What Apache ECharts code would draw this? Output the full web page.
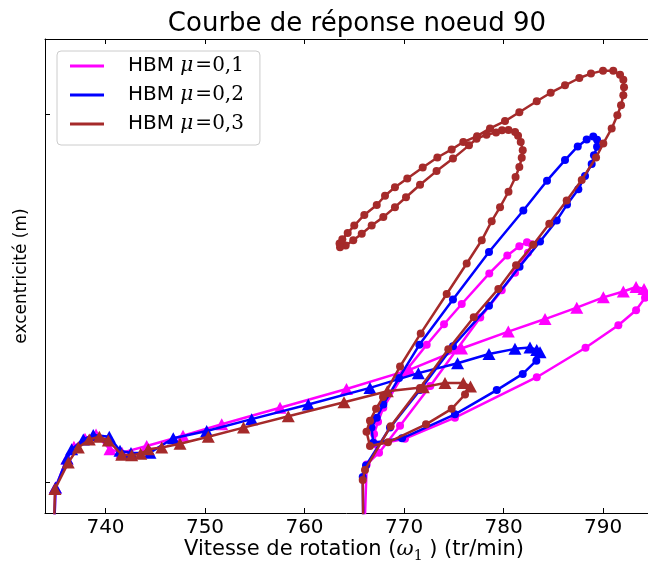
<!DOCTYPE html>
<html><head><meta charset="utf-8">
<script src="https://cdn.jsdelivr.net/npm/echarts@6/dist/echarts.min.js"></script>
<style>html,body{margin:0;padding:0;background:#fff}#c{width:648px;height:568px}</style>
</head><body><div id="c"></div>
<script>
// ---- data (x: rotation speed in tr/min, y: eccentricity, arbitrary units; y ticks at 0 and 1) ----
const seriesNames = ['HBM μ=0,1', 'HBM μ=0,2', 'HBM μ=0,3'];
const seriesColors = ['#ff00ff', '#0000ff', '#a52a2a'];
const xTicks = [740, 750, 760, 770, 780, 790];
const yTicks = [0, 1];

// μ = 0,1 : triangle branch then circle branch
const mu1Tri = [[734.77,-0.203],[734.97,-0.014],[736.13,0.065],[736.83,0.097],[737.94,0.119],[739.05,0.130],[740.45,0.090],[741.66,0.081],[744.14,0.099],[747.79,0.127],[751.68,0.158],[757.54,0.203],[764.22,0.254],[770.53,0.306],[775.78,0.364],[780.48,0.410],[784.17,0.444],[787.36,0.475],[790.03,0.503],[792.04,0.519],[793.32,0.531],[794.12,0.526]];
const mu1Circ = [[794.22,0.502],[793.32,0.468],[791.54,0.427],[788.24,0.366],[783.34,0.286],[775.12,0.176],[770.10,0.119],[767.19,0.103],[766.99,0.132],[767.39,0.165],[767.92,0.203],[770.00,0.297],[772.28,0.374],[774.02,0.430],[775.80,0.485],[778.57,0.568],[780.38,0.617],[781.59,0.642],[782.36,0.653],[782.83,0.647],[782.46,0.624],[781.16,0.570],[779.82,0.522],[777.66,0.448],[775.25,0.359],[772.64,0.262],[769.60,0.154],[767.49,0.081],[766.25,0.049],[765.94,-0.203]];

// μ = 0,2
const mu2Tri = [[734.77,-0.203],[734.97,-0.014],[736.13,0.065],[736.60,0.090],[737.77,0.117],[738.77,0.129],[740.38,0.124],[741.46,0.086],[742.56,0.080],[744.47,0.081],[746.81,0.120],[750.17,0.140],[754.69,0.172],[760.38,0.212],[766.58,0.257],[771.44,0.297],[775.38,0.324],[778.54,0.349],[781.15,0.363],[782.66,0.367],[783.34,0.360],[783.67,0.354]];
const mu2Circ = [[783.30,0.331],[781.93,0.295],[779.32,0.251],[775.12,0.185],[769.80,0.120],[766.91,0.108],[766.73,0.149],[767.26,0.176],[767.92,0.212],[769.50,0.284],[771.54,0.374],[774.92,0.497],[778.54,0.626],[781.99,0.739],[784.37,0.820],[786.18,0.876],[787.46,0.913],[788.36,0.932],[789.02,0.940],[789.40,0.931],[789.40,0.912],[789.09,0.889],[788.86,0.865],[788.19,0.833],[787.52,0.797],[786.38,0.755],[785.35,0.712],[783.67,0.655],[781.61,0.586],[778.54,0.480],[774.92,0.370],[771.61,0.251],[768.59,0.149],[766.18,0.046],[765.85,0.015],[765.94,-0.203]];

// μ = 0,3
const mu3Tri = [[734.77,-0.203],[734.92,-0.018],[736.26,0.054],[737.27,0.095],[738.37,0.117],[739.38,0.124],[740.28,0.114],[741.63,0.075],[742.63,0.074],[743.54,0.078],[744.30,0.090],[745.65,0.095],[747.49,0.105],[750.33,0.124],[753.87,0.149],[758.37,0.180],[763.97,0.218],[768.32,0.248],[771.94,0.259],[774.12,0.270],[775.96,0.270],[776.68,0.261]];
const mu3Circ = [[776.13,0.239],[774.79,0.200],[772.21,0.158],[768.39,0.109],[766.58,0.099],[766.23,0.138],[766.58,0.168],[767.19,0.200],[767.89,0.232],[769.60,0.315],[771.68,0.405],[774.29,0.512],[776.30,0.595],[777.81,0.658],[778.81,0.710],[779.65,0.748],[780.50,0.790],[781.21,0.830],[781.59,0.857],[781.83,0.882],[781.93,0.903],[781.73,0.925],[781.46,0.942],[781.16,0.952],[780.50,0.958],[779.85,0.957],[779.25,0.951],[778.29,0.945],[777.29,0.934],[776.53,0.916],[774.92,0.880],[773.27,0.846],[771.61,0.809],[770.20,0.775],[769.09,0.748],[767.92,0.721],[766.75,0.698],[765.75,0.676],[764.90,0.658],[764.14,0.644],[763.57,0.639],[763.52,0.649],[763.80,0.661],[764.34,0.678],[765.00,0.698],[766.01,0.727],[767.26,0.754],[768.09,0.779],[769.09,0.802],[770.33,0.826],[771.88,0.856],[773.35,0.883],[774.79,0.905],[775.96,0.925],[777.34,0.941],[778.64,0.962],[780.15,0.982],[781.59,1.006],[783.34,1.036],[784.74,1.059],[786.18,1.079],[787.62,1.099],[788.79,1.111],[790.00,1.119],[791.03,1.119],[791.71,1.108],[792.04,1.094],[792.11,1.074],[792.04,1.052],[791.81,1.025],[791.44,0.998],[790.87,0.962],[790.03,0.921],[789.30,0.883],[787.86,0.822],[786.35,0.766],[784.60,0.703],[782.99,0.646],[781.26,0.590],[779.48,0.526],[777.01,0.449],[774.45,0.362],[771.61,0.257],[768.66,0.153],[766.08,0.034],[765.85,0.007],[765.94,-0.203]];

const triBranches = [mu1Tri, mu2Tri, mu3Tri];
const circBranches = [mu1Circ, mu2Circ, mu3Circ];

// ---- chart ----
const FONT = 'DejaVu Sans';
const chart = echarts.init(document.getElementById('c'), null, {renderer: 'canvas'});

const series = seriesNames.map((name, i) => ({
  name: name,
  type: 'line',
  xAxisIndex: 0,
  yAxisIndex: 0,
  z: 2 + i,
  clip: true,
  smooth: false,
  color: seriesColors[i],
  lineStyle: {color: seriesColors[i], width: 2.5},
  itemStyle: {color: seriesColors[i], borderWidth: 0},
  emphasis: {disabled: true},
  data: triBranches[i].map(p => ({value: p, symbol: 'triangle', symbolSize: [13, 12]}))
    .concat(circBranches[i].map(p => ({value: p, symbol: 'circle', symbolSize: 8})))
}));

const option = {
  animation: false,
  backgroundColor: '#ffffff',
  title: {
    text: 'Courbe de réponse noeud 90',
    left: 352,
    textAlign: 'center',
    top: 6,
    textStyle: {fontFamily: FONT, fontSize: 26, fontWeight: 'normal', color: '#000'}
  },
  legend: {
    data: seriesNames,
    orient: 'vertical',
    left: 57,
    top: 51,
    padding: [5, 16, 11, 13],
    itemGap: 9,
    itemWidth: 34,
    itemHeight: 3,
    icon: 'rect',
    borderColor: '#cccccc',
    borderWidth: 1,
    borderRadius: 4,
    backgroundColor: '#ffffff',
    formatter: function (name) {
      const val = name.split('=')[1];
      return '{g|}{t|HBM }{m|μ}{n|=' + val + '}';
    },
    textStyle: {
      rich: {
        g: {width: 19, height: 24},
        t: {fontFamily: FONT, fontSize: 20, color: '#000', lineHeight: 24},
        m: {fontFamily: 'DejaVu Serif', fontStyle: 'italic', fontSize: 20, color: '#000', lineHeight: 24, padding: [0, 2, 0, 0]},
        n: {fontFamily: 'DejaVu Serif', fontSize: 20, color: '#000', lineHeight: 24}
      }
    }
  },
  grid: {left: 45, right: 0, top: 39, bottom: 52, containLabel: false},
  xAxis: [{
    type: 'value',
    position: 'bottom',
    min: 733.92,
    max: 794.52,
    name: '{a|Vitesse de rotation (}{w|ω}{s|1}{a| ) (tr/min)}',
    nameLocation: 'middle',
    nameGap: 24,
    nameMoveOverlap: false,
    nameTextStyle: {
      padding: [0, 0, 0, 15],
      rich: {
        a: {fontFamily: FONT, fontSize: 21, color: '#000', lineHeight: 26},
        w: {fontFamily: 'DejaVu Serif', fontStyle: 'italic', fontSize: 21, color: '#000', lineHeight: 26},
        s: {fontFamily: 'DejaVu Serif', fontSize: 14, color: '#000', lineHeight: 26, verticalAlign: 'bottom', padding: [10, 0, 0, 0]}
      }
    },
    axisLine: {show: true, onZero: false, lineStyle: {color: '#000', width: 1}},
    axisTick: {show: true, inside: true, length: 5, customValues: xTicks, lineStyle: {color: '#000', width: 1}},
    axisLabel: {show: true, customValues: xTicks, margin: 5, fontFamily: FONT, fontSize: 20, color: '#000', formatter: v => String(v)},
    splitLine: {show: false}
  }, {
    type: 'value',
    position: 'top',
    min: 733.92,
    max: 794.52,
    axisLine: {show: true, onZero: false, lineStyle: {color: '#000', width: 1}},
    axisTick: {show: true, inside: true, length: 5, customValues: xTicks, lineStyle: {color: '#000', width: 1}},
    axisLabel: {show: false},
    splitLine: {show: false}
  }],
  yAxis: [{
    type: 'value',
    position: 'left',
    min: -0.083,
    max: 1.205,
    name: 'excentricité (m)',
    nameLocation: 'middle',
    nameGap: 15,
    nameMoveOverlap: false,
    nameTextStyle: {fontFamily: FONT, fontSize: 17, color: '#000'},
    axisLine: {show: true, onZero: false, lineStyle: {color: '#000', width: 1}},
    axisTick: {show: true, inside: true, length: 5, customValues: yTicks, lineStyle: {color: '#000', width: 1}},
    axisLabel: {show: false, customValues: yTicks},
    splitLine: {show: false}
  }],
  series: series
};
chart.setOption(option);
</script>
</body></html>
